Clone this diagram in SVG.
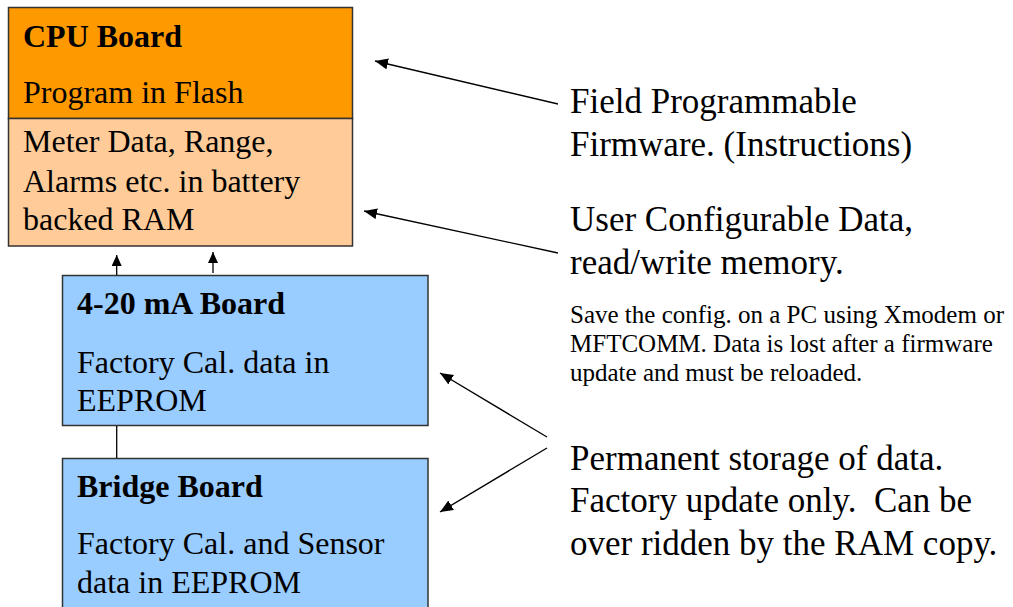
<svg xmlns="http://www.w3.org/2000/svg" width="1013" height="607" viewBox="0 0 1013 607">
  <defs>
    <marker id="ah" markerUnits="userSpaceOnUse" markerWidth="14" markerHeight="12" refX="13" refY="5.5" orient="auto">
      <path d="M0,0 L13,5.5 L0,11 z" fill="#000"/>
    </marker>
    <marker id="ahs" markerUnits="userSpaceOnUse" markerWidth="12" markerHeight="11" refX="11" refY="5" orient="auto">
      <path d="M0,0 L11,5 L0,10 z" fill="#000"/>
    </marker>
  </defs>
  <style>
    text { white-space: pre; }
    .box { stroke: #333; stroke-width: 1.5; }
    .title { font-size: 32px; font-weight: bold; }
    .body { font-size: 32px; }
    .big { font-size: 35px; }
    .small { font-size: 25px; }
    .conn { stroke: #000; stroke-width: 1.3; fill: none; }
  </style>
  <rect width="1013" height="607" fill="#fff"/>

  <g font-family="'Liberation Serif', 'Times New Roman', 'DejaVu Serif', serif" fill="#000">
  <g id="cpu-board">
    <rect class="box" x="8.5" y="7.5" width="344" height="111" fill="#FF9900"/>
    <rect class="box" x="8.5" y="118.5" width="344" height="127.5" fill="#FFCC99"/>
    <text class="title" x="23" y="47">CPU Board</text>
    <text class="body" x="23" y="103">Program in Flash</text>
    <text class="body" x="23" y="152">Meter Data, Range,</text>
    <text class="body" x="23" y="192">Alarms etc. in battery</text>
    <text class="body" x="23" y="230">backed RAM</text>
  </g>

  <g id="ma-board">
    <rect class="box" x="62.5" y="275.5" width="365.5" height="150" fill="#99CCFF"/>
    <text class="title" x="77" y="314">4-20 mA Board</text>
    <text class="body" x="77" y="373">Factory Cal. data in</text>
    <text class="body" x="77" y="411">EEPROM</text>
  </g>

  <g id="bridge-board">
    <rect class="box" x="62.5" y="458.5" width="365.5" height="160" fill="#99CCFF"/>
    <text class="title" x="77" y="497">Bridge Board</text>
    <text class="body" x="77" y="554">Factory Cal. and Sensor</text>
    <text class="body" x="77" y="593">data in EEPROM</text>
  </g>

  <g id="labels">
    <text class="big" x="570" y="113">Field Programmable</text>
    <text class="big" x="570" y="156">Firmware. (Instructions)</text>
    <text class="big" x="570" y="231">User Configurable Data,</text>
    <text class="big" x="570" y="274">read/write memory.</text>
    <text class="small" x="570" y="323">Save the config. on a PC using Xmodem or</text>
    <text class="small" x="570" y="352">MFTCOMM. Data is lost after a firmware</text>
    <text class="small" x="570" y="381">update and must be reloaded.</text>
    <text class="big" x="570" y="470">Permanent storage of data.</text>
    <text class="big" x="570" y="512">Factory update only.  Can be</text>
    <text class="big" x="570" y="555">over ridden by the RAM copy.</text>
  </g>
  </g>

  <g id="connectors">
    <line class="conn" x1="116.7" y1="275" x2="116.7" y2="255" marker-end="url(#ahs)"/>
    <line class="conn" x1="213" y1="273" x2="213" y2="252" marker-end="url(#ahs)"/>
    <line class="conn" x1="116.7" y1="426" x2="116.7" y2="458"/>
    <line class="conn" x1="558" y1="104" x2="375" y2="61" marker-end="url(#ah)"/>
    <line class="conn" x1="558" y1="253" x2="364" y2="211" marker-end="url(#ah)"/>
    <line class="conn" x1="547" y1="437" x2="440" y2="373" marker-end="url(#ah)"/>
    <line class="conn" x1="547" y1="448" x2="440" y2="512" marker-end="url(#ah)"/>
  </g>
</svg>
